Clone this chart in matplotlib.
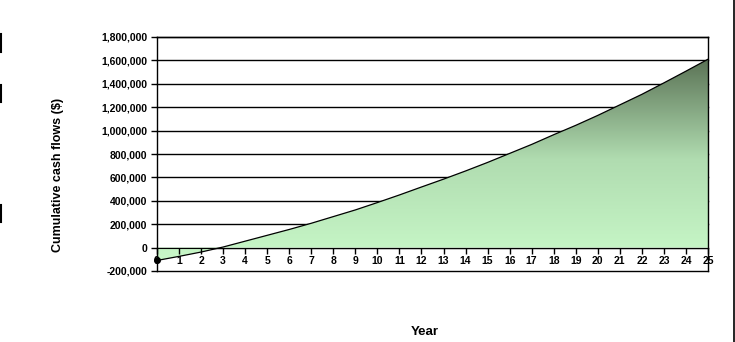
import numpy as np
import matplotlib
matplotlib.use("Agg")
import matplotlib.pyplot as plt
from matplotlib.colors import LinearSegmentedColormap
from matplotlib.ticker import FuncFormatter

# data
years = list(range(26))
cumulative = [-110000, -75000, -38000, 5000, 55000, 105000, 155000, 208000,
              265000, 322000, 385000, 450000, 518000, 585000, 655000, 728000,
              805000, 882000, 965000, 1045000, 1130000, 1220000, 1310000,
              1408000, 1508000, 1610000]
y_ticks = list(range(-200000, 1800001, 200000))

plt.rcParams["font.family"] = ["Liberation Sans", "DejaVu Sans"]
plt.rcParams["font.weight"] = "bold"

W, H = 735, 342
fig = plt.figure(figsize=(W / 100, H / 100), dpi=100)
ax = fig.add_axes([157 / W, 1 - 271 / H, (708 - 157) / W, (271 - 37) / H])

x = np.array(years, dtype=float)
y = np.array(cumulative, dtype=float)

# gridlines sit under the filled area
for v in y_ticks:
    ax.axhline(v, color="black", lw=1, zorder=0.5, clip_on=False)

# area between the curve and zero, filled with a vertical gradient
poly = ax.fill_between(x, y, 0, facecolor="none", edgecolor="none")
cmap = LinearSegmentedColormap.from_list("grn", ["#c8f8c8", "#b0dcb0", "#5a7255"])
grad = np.linspace(0, 1, 256).reshape(-1, 1)
img = ax.imshow(grad, cmap=cmap, origin="lower", aspect="auto",
                extent=[0, 25, y.min(), y.max()], zorder=1)
img.set_clip_path(poly.get_paths()[0], transform=ax.transData)
ax.plot(x, y, color="black", lw=0.9, zorder=3)
ax.plot([x[0]], [y[0]], "o", color="black", ms=4, zorder=4, clip_on=False)

ax.set_xlim(0, 25)
ax.set_ylim(-200000, 1800000)

ax.spines["bottom"].set_position(("data", 0))
ax.spines["bottom"].set_zorder(2.5)
for s in ["left", "right", "top"]:
    ax.spines[s].set_color("black")
    ax.spines[s].set_linewidth(1)
    ax.spines[s].set_zorder(2.5)

ax.set_xticks(years)
ax.set_xticklabels([str(v) for v in years])
ax.set_yticks(y_ticks)
ax.yaxis.set_major_formatter(FuncFormatter(lambda v, p: f"{v:,.0f}"))
ax.tick_params(axis="both", direction="out", length=4, width=1,
               labelsize=7.5, colors="black")
ax.tick_params(axis="x", pad=2)
ax.tick_params(axis="y", pad=3)

fig.text(58 / W, 1 - 175 / H, "Cumulative cash flows ($)", rotation=90,
         ha="center", va="center", fontsize=9, fontweight="bold")
fig.text(425 / W, 1 - 332 / H, "Year", ha="center", va="center",
         fontsize=9.5, fontweight="bold")

# edge marks of the original screenshot
fig.add_artist(plt.Line2D([733.5 / W, 733.5 / W], [0, 1], color="black", lw=1.2))
for y0, y1 in [(34, 52), (85, 102), (205, 222)]:
    fig.add_artist(plt.Line2D([0.8 / W, 0.8 / W], [1 - y0 / H, 1 - y1 / H],
                              color="black", lw=1.5))

fig.savefig("out.png", dpi=100)
